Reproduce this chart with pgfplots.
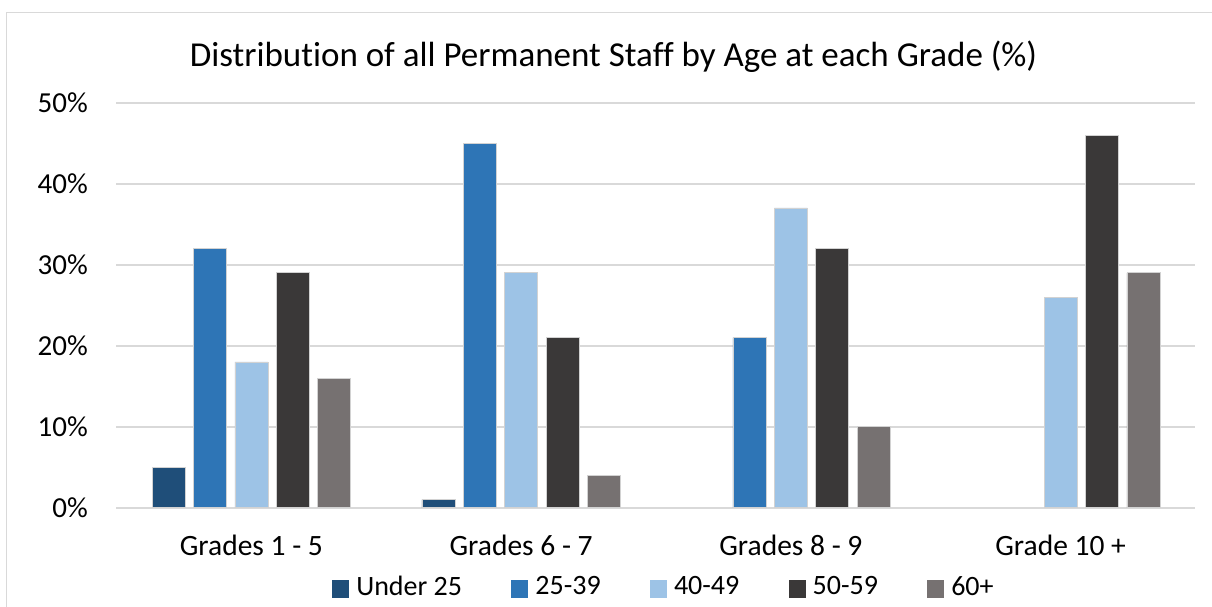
\documentclass[border=0pt]{standalone}
\usepackage{pgfplots}
\pgfplotsset{compat=1.18}
\usepackage{fontspec}
\setmainfont[Ligatures={NoCommon}]{Carlito}
\definecolor{cA}{HTML}{1F4E79}
\definecolor{cB}{HTML}{2E75B6}
\definecolor{cC}{HTML}{9DC3E6}
\definecolor{cD}{HTML}{3A3838}
\definecolor{cE}{HTML}{767171}
\definecolor{gridgray}{HTML}{D9D9D9}
\pgfplotsset{lsq/.style={legend image code/.code={\fill[##1,draw=none] (0pt,-6pt) rectangle (17pt,12pt); \path (0pt,30pt);}}}
\begin{document}
\begin{tikzpicture}
\useasboundingbox (-116.5pt,-99.3pt) rectangle (1095.5pt,507.7pt);
\draw[gridgray, line width=1.3pt] (-109.8pt,-100pt) -- (-109.8pt,495pt) -- (1096pt,495pt);
\begin{axis}[
  at={(0pt,0pt)}, anchor=south west,
  scale only axis, width=1079pt, height=405pt,
  xmin=-0.5, xmax=3.5, ymin=0, ymax=50,
  axis line style={draw=none},
  major tick length=0pt,
  ymajorgrids, grid style={gridgray, line width=1.8pt},
  ytick={0,10,20,30,40,50},
  yticklabels={0\%,10\%,20\%,30\%,40\%,50\%},
  yticklabel style={font=\fontsize{29}{34}\selectfont, inner sep=0pt, anchor=east},
  yticklabel shift=28.5pt,
  xtick={0,1,2,3},
  xticklabels={Grades 1 - 5,Grades 6 - 7,Grades 8 - 9,Grade 10 +},
  xticklabel style={font=\fontsize{29.5}{34}\selectfont, inner sep=0pt, anchor=base},
  xticklabel shift=48pt,
  ybar=8.4pt, bar width=33pt,
  every axis plot/.append style={draw=gray!35, line width=0.6pt},
  legend columns=5,
  legend cell align=left,
  legend style={at={(rel axis cs:0.1997,-0.177)}, anchor=west, draw=none,
    inner sep=0pt, outer sep=0pt,
    font=\fontsize{28}{34}\selectfont,
    nodes={inner sep=0pt},
    /tikz/every odd column/.append style={column sep=7pt},
    /tikz/every even column/.append style={column sep=49pt, yshift=5pt}},
]
\addplot[fill=cA, lsq] coordinates {(0,5) (1,1)};
\addplot[fill=cB, lsq] coordinates {(0,32) (1,45) (2,21)};
\addplot[fill=cC, lsq] coordinates {(0,18) (1,29) (2,37) (3,26)};
\addplot[fill=cD, lsq] coordinates {(0,29) (1,21) (2,32) (3,46)};
\addplot[fill=cE, lsq] coordinates {(0,16) (1,4) (2,10) (3,29)};
\legend{Under 25,25-39,40-49,50-59,60+}
\end{axis}
\node[anchor=base, inner sep=0pt, font=\fontsize{35}{40}\selectfont] at (497pt,440.7pt) {Distribution of all Permanent Staff by Age at each Grade (\%)};
\end{tikzpicture}
\end{document}
